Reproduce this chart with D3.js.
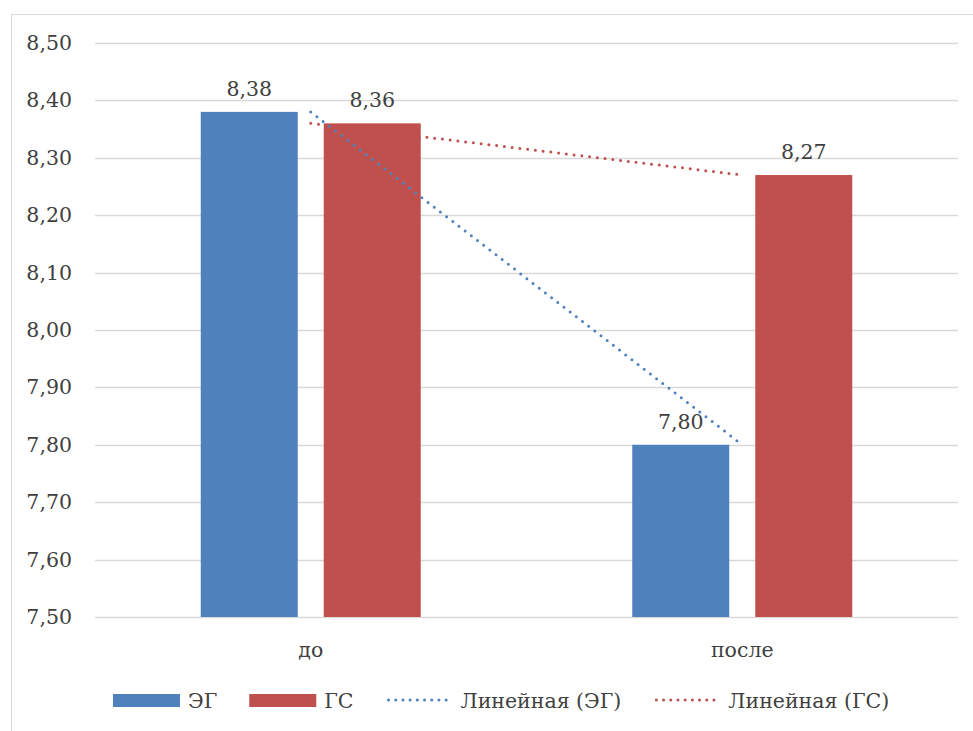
<!DOCTYPE html>
<html><head><meta charset="utf-8">
<script src="https://cdn.jsdelivr.net/npm/d3@7"></script>
<style>
html,body{margin:0;padding:0;background:#fff;}
svg{display:block;font-family:"DejaVu Serif",serif;}
</style></head>
<body>
<svg id="chart" width="973" height="731"></svg>
<script>
const categories = ["до", "после"];
const seriesNames = ["ЭГ", "ГС"];
const valuesEG = [8.38, 7.80];
const valuesGS = [8.36, 8.27];
const yTicks = [7.5, 7.6, 7.7, 7.8, 7.9, 8.0, 8.1, 8.2, 8.3, 8.4, 8.5];
const legendLabels = ["ЭГ", "ГС", "Линейная (ЭГ)", "Линейная (ГС)"];

(function () {
const colors = ["#4f81bd", "#c0504d"];
const textColor = "#404040";
const fs = 20.5;
const svg = d3.select("#chart");
const fmt = v => d3.format(".2f")(v).replace(".", ",");

// outer frame
svg.append("rect").attr("x", 11.5).attr("y", 14.5).attr("width", 1000).attr("height", 1000)
  .attr("fill", "#fff").attr("stroke", "#d9d9d9").attr("stroke-width", 1);

const pLeft = 95, pRight = 958, pTop = 43, pBottom = 617;
const x = d3.scaleBand().domain(categories).range([pLeft, pRight]).paddingInner(0).paddingOuter(0);
const x1 = d3.scaleBand().domain(seriesNames).range([0, 220]).paddingInner(26 / 123);
const y = d3.scaleLinear().domain([7.5, 8.5]).range([pBottom, pTop]);

// grid
svg.append("g").selectAll("line").data(yTicks).join("line")
  .attr("x1", pLeft).attr("x2", pRight)
  .attr("y1", d => Math.round(y(d)) + 0.5).attr("y2", d => Math.round(y(d)) + 0.5)
  .attr("stroke", "#d9d9d9").attr("stroke-width", 1.5);

// y axis labels
const yAxis = d3.axisLeft(y).tickValues(yTicks).tickFormat(fmt).tickSize(0).tickPadding(0);
const ga = svg.append("g").attr("transform", `translate(72,0)`).call(yAxis);
ga.select(".domain").remove();
ga.selectAll("text").attr("font-family", "DejaVu Serif").attr("font-size", fs).attr("fill", textColor);

// x labels
const xAxis = d3.axisBottom(x).tickSize(0).tickPadding(0);
const gx = svg.append("g").attr("transform", `translate(0,${pBottom + 25})`).call(xAxis);
gx.select(".domain").remove();
gx.selectAll("text").attr("font-family", "DejaVu Serif").attr("font-size", fs).attr("fill", textColor);

const data = categories.map((c, i) => ({cat: c, vals: [valuesEG[i], valuesGS[i]]}));
const groupOffset = (x.bandwidth() - 220) / 2;

const groups = svg.append("g").selectAll("g").data(data).join("g")
  .attr("transform", d => `translate(${x(d.cat) + groupOffset},0)`);
groups.selectAll("rect").data(d => d.vals.map((v, k) => ({v, k}))).join("rect")
  .attr("x", d => x1(seriesNames[d.k])).attr("width", x1.bandwidth())
  .attr("y", d => y(d.v)).attr("height", d => pBottom - y(d.v))
  .attr("fill", d => colors[d.k]);
groups.selectAll("text").data(d => d.vals.map((v, k) => ({v, k}))).join("text")
  .attr("x", d => x1(seriesNames[d.k]) + x1.bandwidth() / 2)
  .attr("y", d => y(d.v) - 16)
  .attr("text-anchor", "middle").attr("font-size", fs).attr("fill", textColor)
  .text(d => fmt(d.v));

// trendlines
const line = d3.line().x(d => d[0]).y(d => d[1]);
[valuesEG, valuesGS].forEach((vals, k) => {
  svg.append("path")
    .attr("d", line(categories.map((c, i) => [x(c) + x.bandwidth() / 2, y(vals[i])])))
    .attr("fill", "none").attr("stroke", colors[k]).attr("stroke-width", 3)
    .attr("stroke-linecap", "round").attr("stroke-dasharray", "0 7.8");
});

// legend
const lg = svg.append("g").attr("transform", "translate(113,0)");
let cx = 0;
const ly = 700;
legendLabels.forEach((lab, i) => {
  const g = lg.append("g").attr("transform", `translate(${cx},0)`);
  if (i < 2) {
    g.append("rect").attr("x", 0).attr("y", ly - 6).attr("width", 67).attr("height", 13).attr("fill", colors[i]);
  } else {
    g.append("line").attr("x1", 3).attr("x2", 67).attr("y1", ly).attr("y2", ly)
      .attr("stroke", colors[i - 2]).attr("stroke-width", 3)
      .attr("stroke-linecap", "round").attr("stroke-dasharray", "0 7.2");
  }
  const t = g.append("text").attr("x", 75).attr("y", ly + 7.5).attr("font-size", fs)
    .attr("fill", textColor).text(lab);
  cx += 75 + t.node().getComputedTextLength() + 32;
});
})();
</script>
</body></html>
